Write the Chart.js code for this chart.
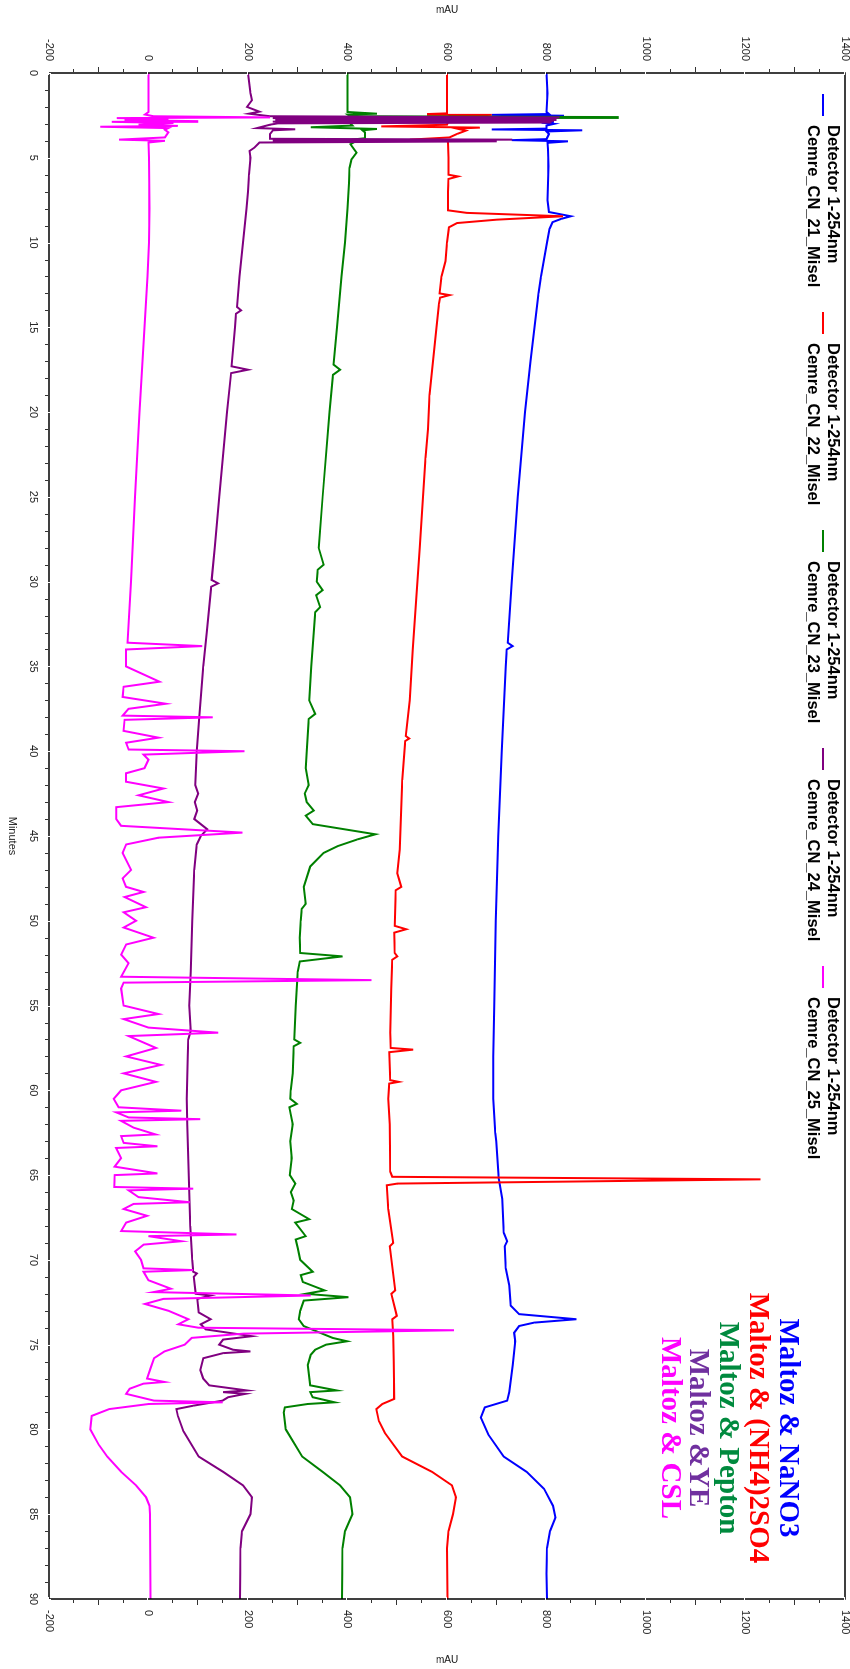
<!DOCTYPE html>
<html><head><meta charset="utf-8">
<script src="https://cdn.jsdelivr.net/npm/chart.js@4.4.1/dist/chart.umd.min.js"></script>
<style>
html,body{margin:0;padding:0;background:#fff;overflow:hidden;width:850px;height:1669px;}
#wrap{position:absolute;left:0;top:0;width:1669px;height:850px;transform-origin:0 0;transform:translate(850px,0) rotate(90deg);background:#fff;}
canvas{display:block;}
</style></head><body>
<div id="wrap"><canvas id="c" width="1669" height="850"></canvas></div>
<script>
// ---------- DATA (minutes, mAU) ----------
const seriesNames = ['Cemre_CN_21_Misel','Cemre_CN_22_Misel','Cemre_CN_23_Misel','Cemre_CN_24_Misel','Cemre_CN_25_Misel'];
const detectorLabel = 'Detector 1-254nm';
const sampleNotes = ['Maltoz & NaNO3','Maltoz & (NH4)2SO4','Maltoz & Pepton','Maltoz &YE','Maltoz & CSL'];
const minuteTicks = [0,5,10,15,20,25,30,35,40,45,50,55,60,65,70,75,80,85,90];
const mauTicks = [-200,0,200,400,600,800,1000,1200,1400];
const seriesColors = ['#0000FF','#FF0000','#008000','#800080','#FF00FF'];
const noteColors = ['#0000FF','#FF0000','#008A3E','#70309F','#FF00FF'];

const cn21 = [[0,800],[1.2,802],[2.3,800],[2.42,805],[2.47,690],[2.52,835],[2.56,800],[2.7,810],[2.82,700],[2.87,815],[2.93,790],[3.0,815],[3.1,800],[3.28,800],[3.33,690],[3.38,872],[3.45,800],[3.6,805],[3.9,800],[3.96,730],[4.03,843],[4.12,802],[4.5,803],[5.5,804],[6.5,803],[7.5,802],[8.2,805],[8.45,849],[8.6,830],[8.8,812],[9.2,806],[10,801],[11,795],[12,789],[13,784],[15,776],[17,768],[20,757],[25,742],[30,730],[33.6,722],[33.8,732],[34.0,720],[35,718],[40,710],[45,703],[50,698],[55,695],[58,693],[60.5,693],[62.5,697],[63,699],[65.2,704],[66.4,711],[68.4,714],[68.9,721],[69.2,716],[70.5,718],[71.5,725],[72.7,728],[73.2,745],[73.5,860],[73.7,775],[73.9,745],[74.3,735],[74.8,737],[76.2,732],[77.8,725],[78.3,721],[78.7,676],[79.3,668],[80.3,683],[81.6,714],[82.5,760],[83.5,795],[84.5,813],[85.2,818],[86,807],[87,801],[88.5,800],[90,801]];

const cn22 = [[0,600],[2.3,600],[2.38,600],[2.42,562],[2.47,690],[2.52,625],[2.58,605],[2.8,603],[3.05,600],[3.15,468],[3.22,666],[3.28,620],[3.4,638],[3.6,620],[3.8,605],[3.93,525],[4.0,600],[4.1,602],[5,603],[6.0,603],[6.1,622],[6.25,603],[7,602],[8.1,602],[8.25,640],[8.45,833],[8.65,700],[8.85,620],[9.1,604],[10,600],[11.1,597],[12,589],[13.0,585],[13.1,605],[13.25,586],[13.6,584],[15,579],[17,572],[19,565],[21,562],[22.7,557],[25,552],[28,545],[31,538],[34,531],[37,525],[39.1,517],[39.25,524],[39.4,516],[41.7,510],[45.8,505],[47.2,500],[48.0,508],[48.2,497],[50.3,495],[50.5,518],[50.7,494],[51.9,495],[52.1,500],[52.3,490],[54,488],[56.6,486],[57.5,487],[57.6,532],[57.75,484],[59.4,486],[59.5,503],[59.6,484],[60.5,482],[62,485],[64.8,486],[65.1,490],[65.25,1230],[65.5,500],[65.6,479],[67,482],[69,492],[69.2,485],[71.8,496],[72,488],[73.3,499],[73.5,490],[74.5,492],[76,493],[78.2,494],[78.5,470],[78.8,458],[79.5,463],[80.2,475],[81.6,510],[82.5,570],[83.3,610],[84,618],[85,612],[86,603],[87,600],[90,601]];

const cn23 = [[0,400],[2.3,400],[2.4,459],[2.45,400],[2.55,405],[2.6,945],[2.65,410],[2.8,400],[3.1,410],[3.2,326],[3.3,459],[3.38,430],[3.5,435],[3.85,435],[3.93,408],[3.98,469],[4.05,415],[4.2,406],[4.7,418],[5.1,408],[5.6,404],[6.5,403],[8,400],[10,395],[12,388],[14,382],[15,379],[17.2,372],[17.5,385],[17.8,371],[20,364],[25,350],[28,342],[29,352],[29.3,340],[30,338],[30.5,350],[30.8,337],[31.5,345],[31.8,335],[33,332],[35,327],[37,323],[37.8,335],[38.1,322],[40,318],[41,316],[42,322],[42.5,314],[43,318],[43.5,332],[43.8,316],[44.3,330],[44.9,456],[45.2,420],[45.6,380],[46,352],[46.8,325],[48,312],[49,316],[49.3,308],[50,306],[51,304],[51.9,305],[52.1,390],[52.4,304],[53,300],[55,296],[57,293],[57.2,305],[57.4,292],[59,290],[60,286],[60.5,285],[60.8,298],[61,283],[62,290],[63,285],[64,288],[65,284],[65.5,295],[66,286],[66.5,292],[67,288],[67.6,323],[67.8,295],[68.6,316],[68.8,296],[69.3,300],[70,305],[70.7,330],[70.9,306],[71.3,310],[71.8,354],[72.0,316],[72.2,402],[72.4,312],[73,305],[73.5,302],[73.9,312],[74.3,345],[74.6,370],[74.8,399],[75.0,357],[75.3,335],[75.6,326],[76.2,320],[77.4,325],[77.7,378],[77.8,325],[78.1,330],[78.4,374],[78.5,320],[78.7,274],[79,272],[80,276],[81.6,309],[82.5,350],[83.3,385],[84,405],[85,410],[86,395],[87,390],[90,389]];

const cn24 = [[0,200],[1.2,205],[1.6,208],[2.0,198],[2.28,223],[2.4,202],[2.55,244],[2.62,826],[2.66,250],[2.72,820],[2.77,255],[2.82,815],[2.87,250],[2.92,810],[2.97,260],[3.05,244],[3.25,218],[3.32,295],[3.38,250],[3.6,244],[3.88,244],[3.93,731],[3.98,250],[4.03,700],[4.1,223],[4.4,213],[4.6,203],[5,205],[6,202],[7,200],[8,197],[10,190],[12,183],[13.8,178],[14.0,186],[14.2,176],[15,174],[17.3,167],[17.5,200],[17.7,166],[20,158],[25,142],[28,133],[29.9,127],[30.1,140],[30.3,126],[33,117],[35,110],[38,102],[40,97],[42,94],[42.5,100],[43,93],[43.5,98],[44,92],[44.6,118],[45,105],[45.5,97],[47,92],[50,88],[53,85],[55,82],[56.5,85],[57,80],[58,79],[60.5,77],[62,78],[64,80],[66,82],[68,84],[70,88],[70.7,90],[70.8,97],[71,91],[72,95],[72.1,125],[72.3,98],[73.1,101],[73.5,125],[73.8,105],[74.1,115],[74.5,208],[74.7,150],[75.0,142],[75.3,170],[75.4,205],[75.5,150],[75.8,110],[76.5,104],[77,110],[77.4,122],[77.7,198],[77.8,150],[77.9,195],[78.1,160],[78.3,149],[78.6,90],[78.8,56],[79.2,59],[80.1,70],[81.6,101],[82.5,150],[83.3,190],[84,208],[85,205],[86,188],[87,185],[90,184]];

const cn25 = [[0,0],[2.3,0],[2.45,-7],[2.55,10],[2.62,244],[2.66,-64],[2.72,40],[2.78,-48],[2.84,100],[2.88,-74],[2.95,50],[3.05,-20],[3.12,59],[3.17,-97],[3.25,40],[3.35,33],[3.5,40],[3.8,33],[3.93,-59],[4.0,33],[4.1,0],[5,1],[8,2],[10,1],[12,-2],[15,-8],[18,-14],[20,-18],[25,-27],[30,-35],[33.6,-42],[33.8,108],[34.0,-45],[35,-45],[35.9,22],[36.2,-50],[36.8,-52],[37.2,35],[37.5,-40],[37.9,-52],[38.0,129],[38.15,-48],[38.8,-50],[39.2,20],[39.5,-45],[39.9,-40],[40.0,193],[40.2,-10],[40.5,0],[41,-8],[41.3,-45],[41.8,-45],[42.2,30],[42.6,-20],[43,40],[43.3,-65],[44,-65],[44.4,-55],[44.8,189],[45.1,20],[45.5,-45],[46,-52],[47,-35],[47.5,-52],[48,-45],[48.3,-10],[48.6,-48],[49.2,-5],[49.5,-50],[50,-25],[50.4,-50],[51,10],[51.4,-45],[52,-55],[52.5,-40],[53.3,-55],[53.5,448],[53.65,-50],[54,-55],[55,-50],[55.5,20],[55.8,-50],[56.3,0],[56.6,140],[56.8,-40],[57.5,15],[58,-45],[58.5,25],[59,-50],[59.5,15],[60,-55],[60.5,-70],[61,-60],[61.2,66],[61.3,-65],[61.6,-40],[61.7,104],[61.8,-55],[62.2,-30],[62.6,14],[62.7,-55],[63.1,-50],[63.3,18],[63.4,-65],[64.0,-55],[64.5,-68],[64.9,18],[65.0,-68],[65.7,-69],[65.8,90],[65.9,-40],[66.3,-20],[66.6,83],[66.7,-30],[67.0,-50],[67.4,-3],[67.8,-45],[68.3,-55],[68.5,177],[68.6,0],[68.9,66],[69.1,-10],[69.5,-27],[70.0,-15],[70.5,-10],[70.6,90],[70.7,-10],[71.2,0],[71.7,45],[71.9,10],[72.1,326],[72.3,30],[72.6,-7],[73.0,40],[73.5,80],[73.8,60],[74.0,100],[74.15,614],[74.35,191],[74.6,87],[75.0,73],[75.4,32],[75.8,11],[76.4,4],[77.0,-3],[77.2,32],[77.3,-10],[77.6,-38],[77.9,-45],[78.3,11],[78.4,149],[78.5,0],[78.8,-79],[79.2,-114],[80.0,-117],[80.9,-100],[81.6,-83],[82.5,-55],[83.3,-25],[84,-5],[84.5,2],[85,3],[90,4]];

const allSeries = [cn21, cn22, cn23, cn24, cn25];

// ---------- CHART ----------
const SANS = "'Liberation Sans', Arial, sans-serif";
const SERIF = "'Liberation Serif', 'Times New Roman', serif";

const decor = {
  id: 'decor',
  afterDraw(chart) {
    const ctx = chart.ctx, a = chart.chartArea;
    const xs = chart.scales.x, ys = chart.scales.y;
    ctx.save();
    ctx.strokeStyle = '#000'; ctx.lineWidth = 1.5;
    ctx.strokeRect(a.left, a.top, a.right - a.left, a.bottom - a.top);
    ctx.lineWidth = 1;
    for (let m = 0; m <= 90; m++) {
      const X = Math.round(xs.getPixelForValue(m)) + 0.5;
      if (m % 5 === 0) {
        ctx.strokeStyle = '#fff';
        ctx.beginPath(); ctx.moveTo(X, a.bottom - 2); ctx.lineTo(X, a.bottom + 2); ctx.stroke();
      } else {
        ctx.strokeStyle = '#333';
        ctx.beginPath(); ctx.moveTo(X, a.bottom + 1); ctx.lineTo(X, a.bottom + 4); ctx.stroke();
      }
    }
    for (let v = -200; v <= 1400; v += 50) {
      const Y = Math.round(ys.getPixelForValue(v)) + 0.5;
      if (v % 200 === 0) {
        ctx.strokeStyle = '#fff';
        ctx.beginPath(); ctx.moveTo(a.left - 2, Y); ctx.lineTo(a.left + 2, Y); ctx.stroke();
        ctx.beginPath(); ctx.moveTo(a.right - 2, Y); ctx.lineTo(a.right + 2, Y); ctx.stroke();
      } else {
        const len = (v % 100 === 0) ? 5 : 3;
        ctx.strokeStyle = '#333';
        ctx.beginPath(); ctx.moveTo(a.left - 1, Y); ctx.lineTo(a.left - 1 - len, Y); ctx.stroke();
        ctx.beginPath(); ctx.moveTo(a.right + 1, Y); ctx.lineTo(a.right + 1 + len, Y); ctx.stroke();
      }
    }
    ctx.fillStyle = '#222';
    ctx.font = '10px ' + SANS;
    ctx.textAlign = 'center'; ctx.textBaseline = 'middle';
    const midY = (a.top + a.bottom) / 2;
    [[10, midY], [chart.width - 9, midY]].forEach(p => {
      ctx.save(); ctx.translate(p[0], p[1]); ctx.rotate(-Math.PI / 2);
      ctx.fillText('mAU', 0, 0); ctx.restore();
    });
    ctx.font = '11px ' + SANS;
    ctx.fillText('Minutes', (a.left + a.right) / 2, 838);
    const legX0 = 94, legStep = 218;
    ctx.textAlign = 'left';
    ctx.font = 'bold 16.5px ' + SANS;
    seriesNames.forEach((nm, i) => {
      const X = legX0 + i * legStep;
      ctx.strokeStyle = seriesColors[i]; ctx.lineWidth = 2;
      ctx.beginPath(); ctx.moveTo(X, 27); ctx.lineTo(X + 22, 27); ctx.stroke();
      ctx.fillStyle = '#000';
      ctx.textBaseline = 'alphabetic';
      ctx.fillText(detectorLabel, X + 31, 22);
      ctx.fillText(nm, X + 31, 42);
    });
    ctx.font = 'bold 29px ' + SERIF;
    ctx.textAlign = 'center'; ctx.textBaseline = 'middle';
    const noteY = [63, 93, 123, 153, 181];
    sampleNotes.forEach((t, i) => {
      ctx.fillStyle = noteColors[i];
      ctx.fillText(t, 1428, noteY[i]);
    });
    ctx.restore();
  }
};

function fixY(w) {
  return s => { s.width = w; s.paddingTop = 0; s.paddingBottom = 0; s.paddingLeft = 0; s.paddingRight = 0; };
}

new Chart(document.getElementById('c'), {
  type: 'scatter',
  data: {
    datasets: allSeries.map((s, i) => ({
      label: seriesNames[i],
      data: s.map(p => ({x: p[0], y: p[1]})),
      showLine: true,
      borderColor: seriesColors[i],
      backgroundColor: seriesColors[i],
      borderWidth: 2,
      pointRadius: 0,
      tension: 0,
      order: 4 - i
    }))
  },
  options: {
    responsive: false,
    animation: false,
    devicePixelRatio: 1,
    layout: { padding: { top: 5, left: 0, right: 0, bottom: 0 } },
    plugins: { legend: { display: false }, tooltip: { enabled: false } },
    scales: {
      x: {
        type: 'linear', position: 'bottom', min: 0, max: 90,
        afterBuildTicks: s => { s.ticks = minuteTicks.map(v => ({value: v})); },
        afterFit: s => { s.height = 49; s.paddingLeft = 0; s.paddingRight = 0; s.paddingTop = 0; s.paddingBottom = 0; },
        grid: { display: false, drawTicks: false },
        border: { display: false },
        ticks: { padding: 9, color: '#222', font: { size: 11, family: SANS }, maxRotation: 0, autoSkip: false, callback: v => String(v) }
      },
      y: {
        type: 'linear', position: 'left', min: -200, max: 1400,
        afterBuildTicks: s => { s.ticks = mauTicks.map(v => ({value: v})); },
        afterFit: fixY(73),
        grid: { display: false, drawTicks: false },
        border: { display: false },
        ticks: { padding: 12, color: '#222', font: { size: 11, family: SANS }, autoSkip: false, callback: v => String(v) }
      },
      y2: {
        type: 'linear', position: 'right', min: -200, max: 1400,
        afterBuildTicks: s => { s.ticks = mauTicks.map(v => ({value: v})); },
        afterFit: fixY(70),
        grid: { display: false, drawTicks: false },
        border: { display: false },
        ticks: { padding: 11, color: '#222', font: { size: 11, family: SANS }, autoSkip: false, callback: v => String(v) }
      }
    }
  },
  plugins: [decor]
});
</script>
</body></html>
